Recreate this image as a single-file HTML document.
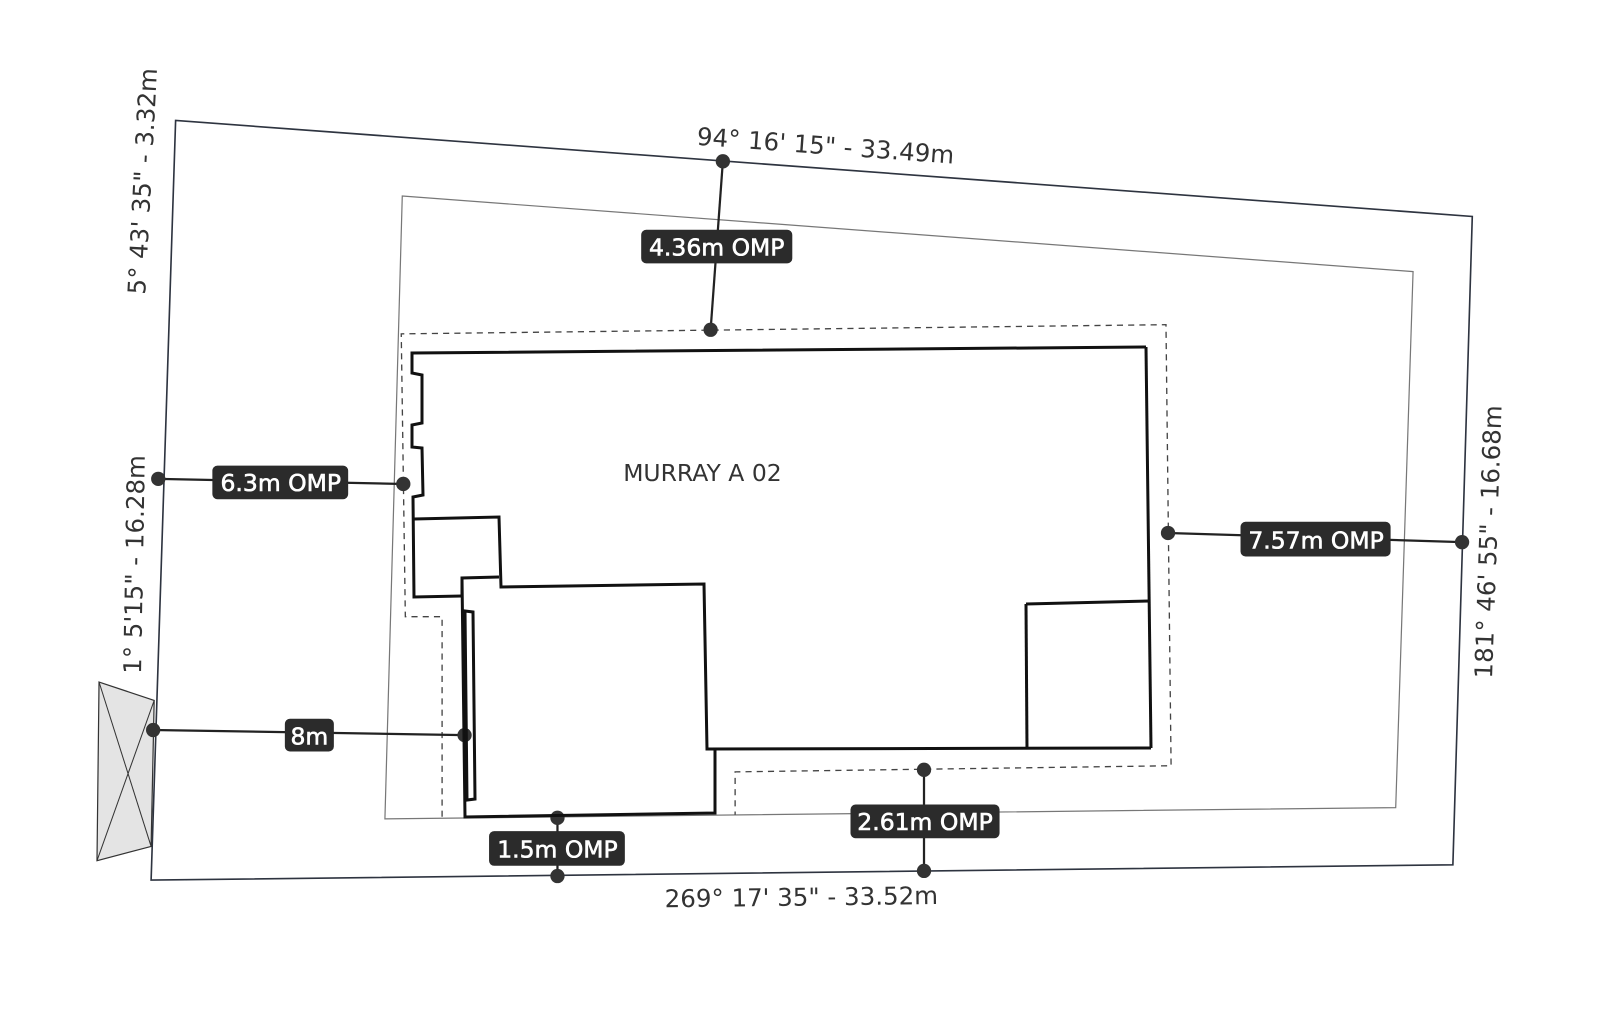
<!DOCTYPE html>
<html><head><meta charset="utf-8"><style>html,body{margin:0;padding:0;background:#fff}svg{display:block}</style></head>
<body>
<svg width="1600" height="1022" viewBox="0 0 1600 1022" xmlns="http://www.w3.org/2000/svg" font-family="'DejaVu Sans','Liberation Sans',sans-serif">
<g transform="scale(1.021)">
  <polygon points="172,118 1442,212 1423,847 148,862" fill="none" stroke="#2e3440" stroke-width="1.6"/>
  <polygon points="394,192 1384,266 1367,791 377,802" fill="none" stroke="#777" stroke-width="1.2"/>
  <polyline points="433,800 433,604 397,604 393,327 1142,318 1147,750 720,756 720,798" fill="none" stroke="#444" stroke-width="1.3" stroke-dasharray="6,5"/>
  <polygon points="97,668 151,686 148,829 95,843" fill="#e4e4e4" stroke="#333" stroke-width="1.2"/>
  <line x1="97" y1="668" x2="148" y2="829" stroke="#333" stroke-width="1"/>
  <line x1="151" y1="686" x2="95" y2="843" stroke="#333" stroke-width="1"/>
  <g stroke="#222" stroke-width="2.2">
    <line x1="708" y1="158" x2="696" y2="323"/>
    <line x1="155" y1="469" x2="395" y2="474"/>
    <line x1="1144" y1="522" x2="1432" y2="531"/>
    <line x1="150" y1="715" x2="455" y2="720"/>
    <line x1="546" y1="801" x2="546" y2="858"/>
    <line x1="905" y1="754" x2="905" y2="853"/>
  </g>
  <g fill="#333">
    <circle cx="708" cy="158" r="7"/><circle cx="696" cy="323" r="7"/>
    <circle cx="155" cy="469" r="7"/><circle cx="395" cy="474" r="7"/>
    <circle cx="1144" cy="522" r="7"/><circle cx="1432" cy="531" r="7"/>
    <circle cx="150" cy="715" r="7"/><circle cx="455" cy="720" r="7"/>
    <circle cx="546" cy="801" r="7"/><circle cx="546" cy="858" r="7"/>
    <circle cx="905" cy="754" r="7"/><circle cx="905" cy="853" r="7"/>
  </g>
  <g fill="#2b2b2b">
    <rect x="628" y="225" width="148" height="33" rx="5"/>
    <rect x="208" y="456" width="133" height="33" rx="5"/>
    <rect x="1215" y="511" width="147" height="34" rx="5"/>
    <rect x="279" y="704" width="48" height="32" rx="5"/>
    <rect x="479" y="814" width="133" height="34" rx="5"/>
    <rect x="833" y="788" width="146" height="33" rx="5"/>
  </g>
  <g fill="#fff" stroke="#fff" stroke-width="0.6" font-size="23" text-anchor="middle">
    <text x="702" y="250">4.36m OMP</text>
    <text x="275" y="481">6.3m OMP</text>
    <text x="1289" y="537">7.57m OMP</text>
    <text x="303" y="729">8m</text>
    <text x="546" y="840">1.5m OMP</text>
    <text x="906" y="813">2.61m OMP</text>
  </g>
  <g fill="#333" font-size="24" text-anchor="middle">
    <text transform="translate(808,151) rotate(4.2)">94° 16' 15" - 33.49m</text>
    <text transform="translate(785,887) rotate(-0.7)">269° 17' 35" - 33.52m</text>
    <text transform="translate(148,178) rotate(-87)">5° 43' 35" - 3.32m</text>
    <text transform="translate(140,553) rotate(-89)">1° 5'15" - 16.28m</text>
    <text transform="translate(1466,531) rotate(-88)">181° 46' 55" - 16.68m</text>
    <text x="688" y="471" font-size="23">MURRAY A 02</text>
  </g>
</g>
<g fill="none" stroke="#111" stroke-width="3" stroke-linejoin="miter">
  <polyline points="1146,347 412,353 412,373 422,375 422,423 412,425 412,447 422,448 423,495 413,497 414,597 462,596"/>
  <line x1="1146" y1="347" x2="1151" y2="748"/>
  <polyline points="414,519 499,517 501,587 704,584 707,749 1151,748"/>
  <polyline points="462,596 462,578 499,577"/>
  <polyline points="462,578 465,817 715,813 715,750"/>
  <polygon points="465,611 473,612 475,799 467,800"/>
  <polyline points="1026,604 1150,601"/>
  <line x1="1026" y1="604" x2="1027" y2="749"/>
</g>
</svg>
</body></html>
